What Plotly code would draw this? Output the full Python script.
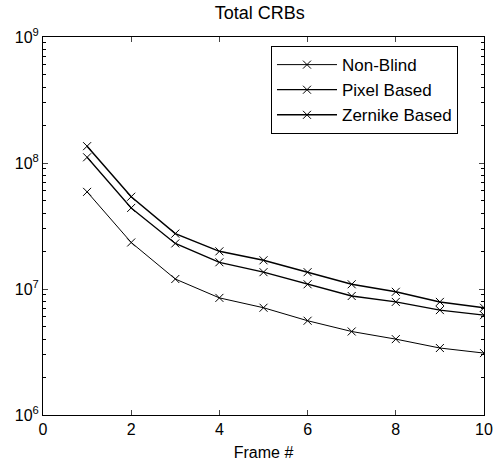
import plotly.graph_objects as go

frames = [1, 2, 3, 4, 5, 6, 7, 8, 9, 10]
non_blind = [5.9e7, 2.34e7, 1.2e7, 8.5e6, 7.1e6, 5.6e6, 4.6e6, 4.0e6, 3.4e6, 3.1e6]
pixel_based = [1.11e8, 4.4e7, 2.3e7, 1.63e7, 1.36e7, 1.09e7, 8.8e6, 7.9e6, 6.8e6, 6.2e6]
zernike_based = [1.36e8, 5.4e7, 2.75e7, 1.99e7, 1.69e7, 1.36e7, 1.09e7, 9.5e6, 7.9e6, 7.1e6]
series_names = ["Non-Blind", "Pixel Based", "Zernike Based"]
x_ticks = [0, 2, 4, 6, 8, 10]
y_tickvals = [1e6, 1e7, 1e8, 1e9]
y_ticktext = ["10<sup>6</sup>", "10<sup>7</sup>", "10<sup>8</sup>", "10<sup>9</sup>"]
y_minor = [m * d for d in [1e6, 1e7, 1e8] for m in range(2, 10)]

font = "Liberation Sans, Arial, sans-serif"

fig = go.Figure()
for name, vals, w in zip(series_names, [non_blind, pixel_based, zernike_based], [1, 1.3, 1.5]):
    fig.add_trace(go.Scatter(
        x=frames, y=vals, name=name, mode="lines+markers",
        line=dict(color="black", width=w),
        marker=dict(symbol="x-thin", size=8, line=dict(color="black", width=1)),
    ))
# helper traces so the minor-tick axes are drawn
for ax in ["y2", "y3"]:
    fig.add_trace(go.Scatter(x=[None], y=[None], yaxis=ax, showlegend=False,
                             hoverinfo="skip", mode="lines"))

minor_axis = dict(type="log", range=[6, 9], tickvals=y_minor,
                  showticklabels=False, ticks="inside", ticklen=3,
                  tickcolor="black", showline=False, showgrid=False,
                  zeroline=False, overlaying="y", anchor="x", automargin=False)

fig.update_layout(
    width=493, height=467,
    margin=dict(l=43, r=9, t=37, b=52),
    paper_bgcolor="white", plot_bgcolor="white",
    font=dict(family=font, size=16, color="black"),
    title=dict(text="Total CRBs", x=0.527, xanchor="center", xref="container",
               y=0.972, yanchor="middle", yref="container",
               font=dict(family=font, size=18, color="black")),
    showlegend=True,
    legend=dict(x=0.517, y=0.976, xanchor="left", yanchor="top",
                bordercolor="black", borderwidth=1, bgcolor="white",
                font=dict(family=font, size=17), tracegroupgap=0, itemwidth=60),
    xaxis=dict(range=[0, 10], tickvals=x_ticks, showline=True, linecolor="black",
               linewidth=1, mirror="ticks", ticks="inside", ticklen=5,
               showgrid=False, zeroline=False, automargin=False,
               title=dict(text="Frame #", standoff=9, font=dict(family=font, size=16)),
               tickfont=dict(family=font, size=16)),
    yaxis=dict(type="log", range=[6, 9], tickvals=y_tickvals, ticktext=y_ticktext,
               showline=True, linecolor="black", linewidth=1, mirror="ticks",
               ticks="inside", ticklen=5, showgrid=False, zeroline=False,
               automargin=False, tickfont=dict(family=font, size=16)),
    yaxis2=dict(minor_axis, side="left"),
    yaxis3=dict(minor_axis, side="right"),
)

fig.write_html("out.html", config={"displayModeBar": False},
               post_script="document.body.style.margin='0';")
